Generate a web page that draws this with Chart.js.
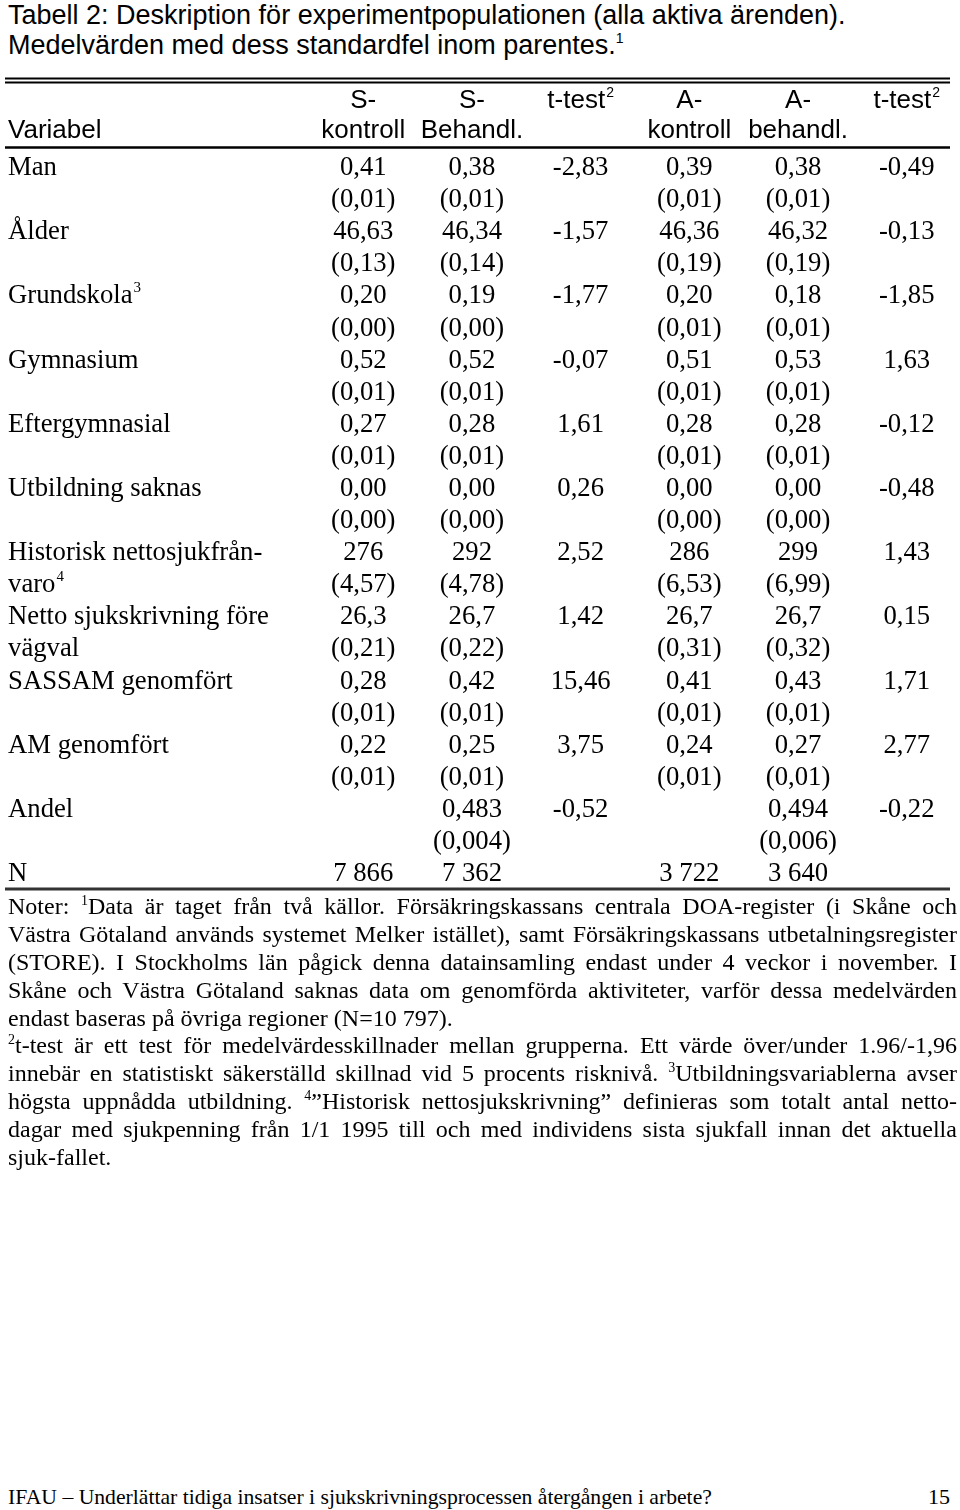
<!DOCTYPE html>
<html lang="sv">
<head>
<meta charset="utf-8" />
<title>Tabell 2</title>
<script src="https://cdn.jsdelivr.net/npm/chart.js@4.4.0/dist/chart.umd.min.js"></script>
<style>
  html, body { margin: 0; padding: 0; background: #fff; }
  body { width: 960px; height: 1510px; position: relative; overflow: hidden; color: #000; }
  #title {
    position: absolute; left: 8px; top: 0;
    font-family: "Liberation Sans", Arial, sans-serif;
    font-size: 27px; line-height: 30px; white-space: nowrap;
  }
  #title sup { font-size: 14px; line-height: 0; vertical-align: 11px; }
  #wrap { position: absolute; left: 0; top: 60px; width: 960px; height: 840px; }
  #notes {
    position: absolute; left: 8px; top: 893px; width: 949px;
    font-family: "Liberation Serif", "Times New Roman", serif;
    font-size: 24px;
  }
  #notes .ln { height: 27.9px; line-height: 27.9px; white-space: nowrap; }
  #notes sup { font-size: 14px; line-height: 0; vertical-align: 9px; }
  #footer {
    position: absolute; left: 8px; top: 1484px; white-space: nowrap;
    font-family: "Liberation Serif", "Times New Roman", serif;
    font-size: 22px; line-height: 26px; transform-origin: left center;
  }
  #page {
    position: absolute; right: 10px; top: 1484px;
    font-family: "Liberation Serif", "Times New Roman", serif;
    font-size: 22px; line-height: 26px;
  }
</style>
</head>
<body>
<div id="title">Tabell 2: Deskription för experimentpopulationen (alla aktiva ärenden).<br>Medelvärden med dess standardfel inom parentes.<sup>1</sup></div>

<div id="wrap"><canvas id="tbl" width="960" height="840"></canvas></div>

<div id="notes">
  <div class="ln j">Noter: <sup>1</sup>Data är taget från två källor. Försäkringskassans centrala DOA-register (i Skåne och</div>
  <div class="ln j">Västra Götaland används systemet Melker istället), samt Försäkringskassans utbetalningsregister</div>
  <div class="ln j">(STORE). I Stockholms län pågick denna datainsamling endast under 4 veckor i november. I</div>
  <div class="ln j">Skåne och Västra Götaland saknas data om genomförda aktiviteter, varför dessa medelvärden</div>
  <div class="ln">endast baseras på övriga regioner (N=10 797).</div>
  <div class="ln j"><sup>2</sup>t-test är ett test för medelvärdesskillnader mellan grupperna. Ett värde över/under 1.96/-1,96</div>
  <div class="ln j">innebär en statistiskt säkerställd skillnad vid 5 procents risknivå. <sup>3</sup>Utbildningsvariablerna avser</div>
  <div class="ln j">högsta uppnådda utbildning. <sup>4</sup>”Historisk nettosjukskrivning” definieras som totalt antal netto-</div>
  <div class="ln j">dagar med sjukpenning från 1/1 1995 till och med individens sista sjukfall innan det aktuella</div>
  <div class="ln">sjuk-fallet.</div>
</div>

<div id="footer">IFAU – Underlättar tidiga insatser i sjukskrivningsprocessen återgången i arbete?</div>
<div id="page">15</div>

<script>
// table content
const variables = [
  "Man", "Ålder", "Grundskola^3", "Gymnasium", "Eftergymnasial", "Utbildning saknas",
  ["Historisk nettosjukfrån-", "varo^4"], ["Netto sjukskrivning före", "vägval"],
  "SASSAM genomfört", "AM genomfört", "Andel", "N"
];
const headTop = ["S-", "S-", "t-test^2", "A-", "A-", "t-test^2"];
const headBottom = ["kontroll", "Behandl.", "", "kontroll", "behandl.", ""];

const sKontroll   = ["0,41", "46,63", "0,20", "0,52", "0,27", "0,00", "276", "26,3", "0,28", "0,22", "", "7 866"];
const sKontrollSE = ["(0,01)", "(0,13)", "(0,00)", "(0,01)", "(0,01)", "(0,00)", "(4,57)", "(0,21)", "(0,01)", "(0,01)", "", ""];
const sBehandl    = ["0,38", "46,34", "0,19", "0,52", "0,28", "0,00", "292", "26,7", "0,42", "0,25", "0,483", "7 362"];
const sBehandlSE  = ["(0,01)", "(0,14)", "(0,00)", "(0,01)", "(0,01)", "(0,00)", "(4,78)", "(0,22)", "(0,01)", "(0,01)", "(0,004)", ""];
const tTestS      = ["-2,83", "-1,57", "-1,77", "-0,07", "1,61", "0,26", "2,52", "1,42", "15,46", "3,75", "-0,52", ""];
const aKontroll   = ["0,39", "46,36", "0,20", "0,51", "0,28", "0,00", "286", "26,7", "0,41", "0,24", "", "3 722"];
const aKontrollSE = ["(0,01)", "(0,19)", "(0,01)", "(0,01)", "(0,01)", "(0,00)", "(6,53)", "(0,31)", "(0,01)", "(0,01)", "", ""];
const aBehandl    = ["0,38", "46,32", "0,18", "0,53", "0,28", "0,00", "299", "26,7", "0,43", "0,27", "0,494", "3 640"];
const aBehandlSE  = ["(0,01)", "(0,19)", "(0,01)", "(0,01)", "(0,01)", "(0,00)", "(6,99)", "(0,32)", "(0,01)", "(0,01)", "(0,006)", ""];
const tTestA      = ["-0,49", "-0,13", "-1,85", "1,63", "-0,12", "-0,48", "1,43", "0,15", "1,71", "2,77", "-0,22", ""];

// layout (scale units: x = column, y = text line)
const X_MIN = -2.342, X_MAX = 6.49, Y_MIN = -3.37, Y_MAX = 22.81;
const LABEL_X = -2.268, RULE_X0 = -2.296, RULE_X1 = 6.398;
const HEAD_TOP_Y = -2.09, HEAD_BOT_Y = -1.15;
const SERIF = '"Liberation Serif", "Times New Roman", serif';
const SANS = '"Liberation Sans", Arial, sans-serif';

const valueCols = [sKontroll, sBehandl, tTestS, aKontroll, aBehandl, tTestA];
const seCols = [sKontrollSE, sBehandlSE, null, aKontrollSE, aBehandlSE, null];

function textSet(points, size, family, align) {
  return {
    type: "scatter", data: points, pointRadius: 0, pointHoverRadius: 0,
    cellSize: size, cellFamily: family, cellAlign: align, clip: false
  };
}

const cellPts = [];
valueCols.forEach((col, c) => {
  col.forEach((v, i) => { if (v) cellPts.push({ x: c + 1, y: 2 * i, t: v }); });
  if (seCols[c]) seCols[c].forEach((v, i) => { if (v) cellPts.push({ x: c + 1, y: 2 * i + 1, t: v }); });
});

const labelPts = [];
variables.forEach((v, i) => {
  const lines = Array.isArray(v) ? v : [v];
  lines.forEach((l, k) => labelPts.push({ x: LABEL_X, y: 2 * i + k, t: l }));
});

const headPts = [{ x: LABEL_X, y: HEAD_BOT_Y, t: "Variabel", left: true }];
headTop.forEach((h, c) => { if (h) headPts.push({ x: c + 1, y: HEAD_TOP_Y, t: h }); });
headBottom.forEach((h, c) => { if (h) headPts.push({ x: c + 1, y: HEAD_BOT_Y, t: h }); });

function rule(y, w, color) {
  return {
    type: "scatter", showLine: true, data: [{ x: RULE_X0, y: y }, { x: RULE_X1, y: y }],
    borderColor: color || "#000", borderWidth: w, pointRadius: 0, clip: false
  };
}

function drawCell(ctx, text, x, y, size, family, align) {
  const parts = text.split("^");
  const supSize = Math.round(size * 0.55);
  ctx.font = size + "px " + family;
  const w0 = ctx.measureText(parts[0]).width;
  let w1 = 0;
  if (parts[1]) { ctx.font = supSize + "px " + family; w1 = ctx.measureText(parts[1]).width + 1; }
  let sx = align === "left" ? x : x - (w0 + w1) / 2;
  ctx.textAlign = "left";
  ctx.textBaseline = "middle";
  ctx.fillStyle = "#000";
  ctx.font = size + "px " + family;
  ctx.fillText(parts[0], sx, y);
  if (parts[1]) {
    ctx.font = supSize + "px " + family;
    ctx.fillText(parts[1], sx + w0 + 1, y - size * 0.3);
  }
}

const cellText = {
  id: "cellText",
  afterDatasetsDraw(chart) {
    const ctx = chart.ctx;
    ctx.save();
    chart.data.datasets.forEach((ds, di) => {
      if (!ds.cellSize) return;
      chart.getDatasetMeta(di).data.forEach((el, i) => {
        const p = ds.data[i];
        const align = p.left ? "left" : ds.cellAlign;
        drawCell(ctx, p.t, el.x, el.y, ds.cellSize, ds.cellFamily, align);
      });
    });
    ctx.restore();
  }
};

new Chart(document.getElementById("tbl").getContext("2d"), {
  type: "scatter",
  data: {
    datasets: [
      rule(-2.79, 2),
      rule(-2.665, 2),
      rule(-0.64, 2.5),
      rule(22.47, 3, "#333"),
      textSet(headPts, 26, SANS, "center"),
      textSet(labelPts, 26.7, SERIF, "left"),
      textSet(cellPts, 26.7, SERIF, "center")
    ]
  },
  options: {
    responsive: false,
    animation: false,
    events: [],
    layout: { padding: 0 },
    plugins: { legend: { display: false }, tooltip: { enabled: false } },
    scales: {
      x: { type: "linear", min: X_MIN, max: X_MAX, display: false },
      y: { type: "linear", min: Y_MIN, max: Y_MAX, reverse: true, display: false }
    }
  },
  plugins: [cellText]
});

// justify the note lines one by one so the breaks match the print
document.querySelectorAll("#notes .ln.j").forEach((ln) => {
  const full = 949;
  const r = document.createRange();
  r.selectNodeContents(ln);
  const natural = r.getBoundingClientRect().width;
  const gaps = (ln.textContent.trim().match(/ +/g) || []).length;
  if (gaps) ln.style.wordSpacing = ((full - natural) / gaps).toFixed(2) + "px";
});

// footer is set in a condensed face in the print
const foot = document.getElementById("footer");
foot.style.transform = "scaleX(" + (704 / foot.scrollWidth).toFixed(3) + ")";
</script>
</body>
</html>
